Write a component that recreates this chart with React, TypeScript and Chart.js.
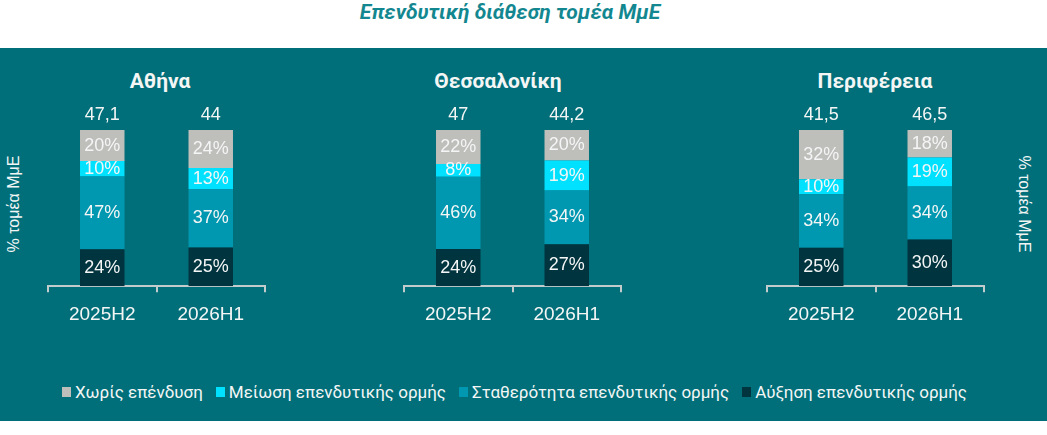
import React, { useEffect, useRef } from 'react';
import Chart from 'chart.js/auto';

// regions and periods
const regions = ['Αθήνα', 'Θεσσαλονίκη', 'Περιφέρεια'];
const periods = ['2025H2', '2026H1'];

// shares per region x period (Αθήνα H2, H1, Θεσσαλονίκη H2, H1, Περιφέρεια H2, H1)
const increase = [23.6, 24.8, 23.8, 26.9, 24.6, 29.9];
const stable = [46.7, 37.4, 46.3, 34.4, 34.2, 33.9];
const decrease = [9.8, 13.4, 8.2, 19.1, 9.6, 18.6];
const noInvestment = [19.9, 24.4, 21.7, 19.6, 31.6, 17.6];

// value shown above each bar
const totals = [47.1, 44, 47, 44.2, 41.5, 46.5];

const seriesNames = [
  'Αύξηση επενδυτικής ορμής',
  'Σταθερότητα επενδυτικής ορμής',
  'Μείωση επενδυτικής ορμής',
  'Χωρίς επένδυση',
];
const seriesValues = [increase, stable, decrease, noInvestment];
const seriesColors = ['#00343e', '#0098b1', '#00e1ff', '#bebebb'];

const BG = '#006f79';
const TEXT = '#f4f6f6';
const AXIS = '#c3cccc';
const NUM_FONT = '"Liberation Sans", Arial, sans-serif';
const TITLE_FONT = 'Roboto, "Liberation Sans", sans-serif';

// axis spans of the three panels
const panelLeft = [48, 404, 767];
const panelTitleX = [160, 498, 875];
const AXIS_W = 217;
const PAD = 3;
const CANVAS_H = 245;

const labelPlugin = {
  id: 'barLabels',
  afterDatasetsDraw(chart: any, _args: any, opts: any) {
    const ctx = chart.ctx;
    ctx.save();
    ctx.fillStyle = TEXT;
    ctx.font = `18px ${NUM_FONT}`;
    ctx.textAlign = 'center';
    ctx.textBaseline = 'middle';
    chart.data.datasets.forEach((ds: any, di: number) => {
      const meta = chart.getDatasetMeta(di);
      meta.data.forEach((el: any, i: number) => {
        const v = ds.data[i];
        ctx.fillText(`${Math.round(v)}%`, el.x, (el.y + el.base) / 2);
        if (di === chart.data.datasets.length - 1) {
          ctx.fillText(String(opts.totals[i]).replace('.', ','), el.x, el.y - 15);
        }
      });
    });
    ctx.restore();
  },
};

const RegionChart: React.FC<{ index: number }> = ({ index }) => {
  const ref = useRef<HTMLCanvasElement>(null);
  useEffect(() => {
    if (!ref.current) return;
    const from = index * periods.length;
    const to = from + periods.length;
    const chart = new Chart(ref.current, {
      type: 'bar',
      data: {
        labels: periods,
        datasets: seriesNames.map((name, si) => ({
          label: name,
          data: seriesValues[si].slice(from, to),
          backgroundColor: seriesColors[si],
          borderWidth: 0,
          categoryPercentage: 1,
          barPercentage: 0.41,
        })),
      },
      options: {
        animation: false,
        responsive: false,
        maintainAspectRatio: false,
        layout: { padding: { top: 35, bottom: 3, left: PAD, right: PAD } },
        plugins: {
          legend: { display: false },
          tooltip: { enabled: false },
          barLabels: { totals: totals.slice(from, to) },
        } as any,
        scales: {
          x: {
            stacked: true,
            border: { display: true, color: AXIS, width: 2 },
            grid: {
              display: true,
              offset: true,
              drawOnChartArea: false,
              drawTicks: true,
              tickLength: 6,
              color: AXIS,
              lineWidth: 2,
            },
            ticks: { color: TEXT, font: { size: 19, family: NUM_FONT }, padding: 11 },
          },
          y: { stacked: true, display: false, min: 0, max: 100 },
        },
      },
      plugins: [labelPlugin],
    });
    return () => chart.destroy();
  }, [index]);

  return (
    <canvas
      ref={ref}
      width={AXIS_W + PAD * 2}
      height={CANVAS_H}
      style={{ position: 'absolute', left: panelLeft[index] - PAD, top: 95, width: AXIS_W + PAD * 2, height: CANVAS_H }}
    />
  );
};

const App: React.FC = () => {
  const legendOrder = [3, 2, 1, 0];
  return (
    <div style={{ position: 'absolute', left: 0, top: 0, width: 1047, height: 435, background: '#fff', overflow: 'hidden' }}>
      <div
        style={{
          position: 'absolute', left: 0, top: 0, width: 1020, height: 48, lineHeight: '54px', textAlign: 'center',
          color: '#138790', font: `italic bold 21px ${TITLE_FONT}`,
        }}
      >
        Επενδυτική διάθεση τομέα ΜμΕ
      </div>
      <div style={{ position: 'absolute', left: 0, top: 48, width: 1047, height: 373, background: BG }} />
      {regions.map((r, i) => (
        <div
          key={r}
          style={{
            position: 'absolute', left: panelTitleX[i] - 100, top: 68, width: 200, textAlign: 'center',
            color: TEXT, font: `bold 21px ${TITLE_FONT}`, lineHeight: '26px',
          }}
        >
          {r}
        </div>
      ))}
      {regions.map((r, i) => (
        <RegionChart key={r} index={i} />
      ))}
      <div
        style={{
          position: 'absolute', left: 15 - 70, top: 204 - 10, width: 140, height: 20, lineHeight: '20px', textAlign: 'center',
          transform: 'rotate(-90deg)', color: TEXT, font: `16px ${NUM_FONT}`,
        }}
      >
        % τομέα ΜμΕ
      </div>
      <div
        style={{
          position: 'absolute', left: 1023 - 70, top: 204 - 10, width: 140, height: 20, lineHeight: '20px', textAlign: 'center',
          transform: 'rotate(90deg)', color: TEXT, font: `16px ${NUM_FONT}`,
        }}
      >
        % τομέα ΜμΕ
      </div>
      <div
        style={{
          position: 'absolute', left: 62, top: 382, height: 20, display: 'flex', alignItems: 'center',
          color: TEXT, font: `17px ${TITLE_FONT}`, whiteSpace: 'nowrap',
        }}
      >
        {legendOrder.map((si) => (
          <span key={si} style={{ display: 'flex', alignItems: 'center', marginRight: 13 }}>
            <span style={{ display: 'inline-block', width: 9, height: 10, background: seriesColors[si], marginRight: 4 }} />
            {seriesNames[si]}
          </span>
        ))}
      </div>
    </div>
  );
};

export default App;
